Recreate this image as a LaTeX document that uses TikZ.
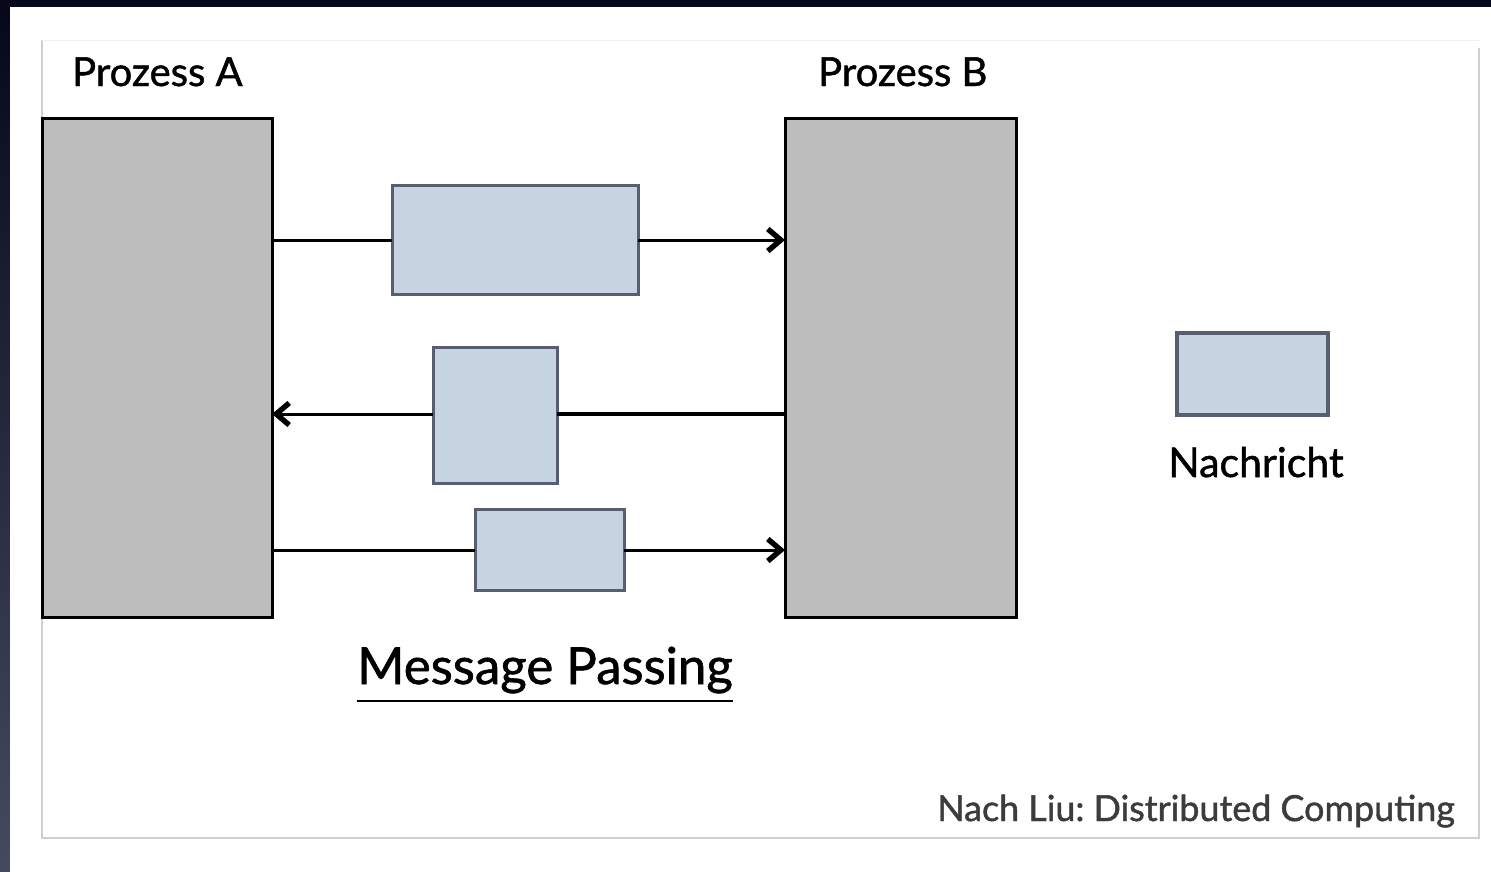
\documentclass[tikz,border=0pt]{standalone}
\usepackage{fontspec}
\setmainfont{Lato}[FakeBold=1.2]
\usetikzlibrary{arrows.meta}
\definecolor{procgray}{HTML}{BDBDBD}
\definecolor{msgfill}{HTML}{C6D3E0}
\definecolor{msgdraw}{HTML}{585E72}
\definecolor{panelline}{HTML}{CFCFCF}
\definecolor{footgray}{HTML}{3C3C3C}
\definecolor{darktop}{HTML}{07071A}
\definecolor{darkbot}{HTML}{454A60}
\tikzset{
  procbox/.style={draw=black, line width=3pt, fill=procgray, inner sep=0pt, outer sep=0pt},
  msgbox/.style={draw=msgdraw, line width=3pt, fill=msgfill, inner sep=0pt, outer sep=0pt},
  conn/.style={line width=3pt, black},
  arr/.style={conn, -{Straight Barb[length=13pt,width=22pt,line width=0pt 1.8]}},
  lbl/.style={inner sep=0pt, anchor=base west, font=\fontsize{40}{46}\selectfont}
}
\frenchspacing
\begin{document}
\begin{tikzpicture}[x=1pt,y=-1pt]
\useasboundingbox (0,0) rectangle (1491,871);
% dark surround
\shade[top color=darktop, bottom color=darkbot] (0,0) rectangle (1491,871);
\fill[white] (10,7) rectangle (1500,880);
% panel outline
\draw[panelline, line width=1.5pt] (42,40) -- (42,838) -- (1479,838) -- (1479,48);
\draw[white!94!black, line width=1pt] (42,40) -- (1479,40);

% process boxes
\node[procbox, minimum width=230pt, minimum height=499pt] (pa) at (157,367.5) {};
\node[procbox, minimum width=231pt, minimum height=499pt] (pb) at (900.5,367.5) {};
\node[lbl] (la) at (72,86) {Prozess A};
\node[lbl] (lb) at (818,86) {Prozess B};

% messages
\node[msgbox, minimum width=246pt, minimum height=109pt] (m1) at (515,239.5) {};
\node[msgbox, minimum width=124pt, minimum height=136pt] (m2) at (495,415) {};
\node[msgbox, minimum width=149pt, minimum height=81pt] (m3) at (549.5,549.5) {};

\coordinate (a1) at (pa.east |- 0,240);
\coordinate (b1) at (pb.west |- 0,240);
\coordinate (a2) at (pa.east |- 0,414);
\coordinate (b2) at (pb.west |- 0,414);
\coordinate (a3) at (pa.east |- 0,550);
\coordinate (b3) at (pb.west |- 0,550);
\coordinate (m1w) at (m1.west |- 0,240);
\coordinate (m1e) at (m1.east |- 0,240);
\coordinate (m2w) at (m2.west |- 0,414);
\coordinate (m2e) at (m2.east |- 0,414);
\coordinate (m3w) at (m3.west |- 0,550);
\coordinate (m3e) at (m3.east |- 0,550);

\draw[conn] (a1) -- (m1w);
\draw[arr] (m1e) -- (b1);
\draw[conn, line width=4pt] (b2) -- (m2e);
\draw[arr] (m2w) -- (a2);
\draw[conn] (a3) -- (m3w);
\draw[arr] (m3e) -- (b3);

% legend
\node[msgbox, line width=3.5pt, minimum width=151pt, minimum height=82pt] (leg) at (1252.5,374) {};
\node[lbl, anchor=base, font=\fontsize{41}{46}\selectfont] (legt) at (1256,477) {Nachricht};

% title
\node[lbl, font=\fontsize{51}{58}\selectfont] (title) at (357,684) {Message Passing};
\draw[line width=2.4pt] (title.west |- 0,701) -- (title.east |- 0,701);

% source
\node[lbl, anchor=base east, text=footgray, font=\fontsize{35.9}{40}\selectfont] (src) at (1455,821) {Nach Liu: Distributed Computing};
\end{tikzpicture}
\end{document}
